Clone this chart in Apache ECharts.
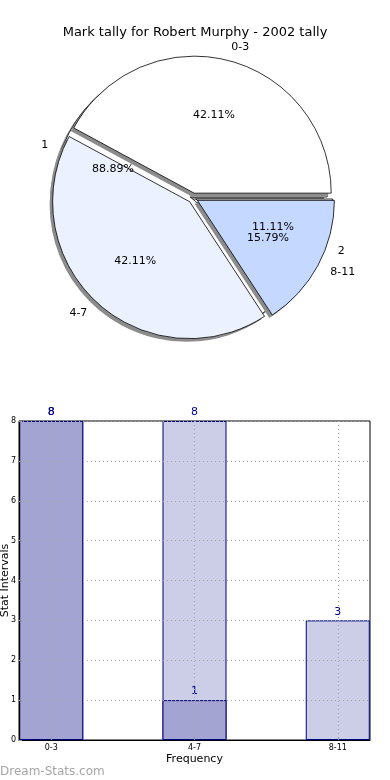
<!DOCTYPE html>
<html>
<head>
<meta charset="utf-8">
<script src="https://cdn.jsdelivr.net/npm/echarts@6/dist/echarts.min.js"></script>
<style>html,body{margin:0;padding:0;background:#fff;}#c{width:390px;height:780px;}</style>
</head>
<body>
<div id="c"></div>
<script>
// ---- data ----
const titleText = 'Mark tally for Robert Murphy - 2002 tally';
const pieCategories = ['0-3', '4-7', '8-11'];
const pieValues = [8, 8, 3];
const pieColors = ['#ffffff', '#ebf1fe', '#c5d8ff'];
const subCategories = ['1', '2'];
const subValues = [8, 1];
const barCategories = ['0-3', '4-7', '8-11'];
const lightValues = [8, 8, 3];
const darkValues = [8, 1, null];
const yTicks = [0, 1, 2, 3, 4, 5, 6, 7, 8];
const xAxisName = 'Frequency';
const yAxisName = 'Stat Intervals';
const watermark = 'Dream-Stats.com';

const FONT = 'DejaVu Sans';
const R = 137;
const CENTER = [193, 198];
const SHADOW_CENTER = [190, 201];

function pctFormatter(vals) {
  const total = vals.reduce((a, b) => a + b, 0);
  return p => (p.value / total * 100).toFixed(2) + '%';
}

function wedgeData(names, vals, colors, sel) {
  return names.map((n, i) => ({
    name: n, value: vals[i], selected: sel,
    itemStyle: { color: colors[i] }
  }));
}

function basePie(extra) {
  return Object.assign({
    type: 'pie', startAngle: 0, clockwise: false,
    avoidLabelOverlap: false, animation: false, silent: true,
    emphasis: { disabled: true }
  }, extra);
}

function shadowPie(names, vals, offset, z) {
  return basePie({
    center: SHADOW_CENTER, radius: R, selectedMode: 'multiple', selectedOffset: offset, z: z,
    data: wedgeData(names, vals, names.map(() => '#8c8c8c'), true),
    itemStyle: { borderWidth: 0 },
    label: { show: false }, labelLine: { show: false }
  });
}

function facePie(names, vals, colors, offset, z) {
  return basePie({
    center: CENTER, radius: R, selectedMode: 'multiple', selectedOffset: offset, z: z,
    data: wedgeData(names, vals, colors, true),
    itemStyle: { borderColor: '#000', borderWidth: 0.8 },
    label: { show: true, position: 'outside', formatter: '{b}', distanceToLabelLine: 0,
      fontFamily: FONT, fontSize: 11, color: '#000' },
    labelLine: { show: false, length: 14, length2: 0 }
  });
}

function pctPie(names, vals) {
  return basePie({
    center: CENTER, radius: R * 1.2, z: 6,
    data: names.map((n, i) => ({ name: n, value: vals[i] })),
    itemStyle: { color: 'rgba(0,0,0,0)', borderWidth: 0 },
    label: { show: true, position: 'inside', formatter: pctFormatter(vals),
      fontFamily: FONT, fontSize: 11, color: '#000' },
    labelLine: { show: false }
  });
}

const chart = echarts.init(document.getElementById('c'));
chart.setOption({
  animation: false,
  title: {
    text: titleText, left: 'center', top: 21,
    textStyle: { fontFamily: FONT, fontSize: 13, fontWeight: 'normal', color: '#000' }
  },
  graphic: [{
    type: 'text', left: 0, top: 766,
    style: { text: watermark, font: '12px "DejaVu Sans"', fill: '#a6a6a6' }
  }],
  grid: {
    left: 19, right: 20, top: 421, bottom: 40,
    outerBoundsMode: 'none', containLabel: false,
    show: true, borderColor: '#000', borderWidth: 1, backgroundColor: 'transparent'
  },
  xAxis: {
    type: 'value', min: -0.225, max: 2.225, z: 5,
    name: xAxisName, nameLocation: 'middle', nameGap: 14, nameMoveOverlap: false,
    nameTextStyle: { fontFamily: FONT, fontSize: 11, color: '#000' },
    axisLine: { show: true, onZero: false, lineStyle: { color: '#000' } },
    axisTick: { show: true, inside: true, length: 3, customValues: [0, 1, 2], lineStyle: { color: '#999' } },
    axisLabel: {
      customValues: [0, 1, 2], margin: 4,
      fontFamily: FONT, fontSize: 8, color: '#000',
      formatter: v => barCategories[Math.round(v)]
    },
    splitLine: { show: true, lineStyle: { color: '#a8a8a8', type: [1, 3] } }
  },
  yAxis: {
    type: 'value', min: yTicks[0], max: yTicks[yTicks.length - 1], interval: 1, z: 5,
    name: yAxisName, nameLocation: 'middle', nameGap: 8, nameMoveOverlap: false,
    nameTextStyle: { fontFamily: FONT, fontSize: 11, color: '#000' },
    axisLine: { show: true, onZero: false, lineStyle: { color: '#000' } },
    axisTick: { show: true, inside: true, length: 3, lineStyle: { color: '#999' } },
    axisLabel: { margin: 3, fontFamily: FONT, fontSize: 8, color: '#000' },
    splitLine: { show: true, lineStyle: { color: '#a8a8a8', type: [1, 3] } }
  },
  series: [
    shadowPie(subCategories, subValues, 3, 1),
    facePie(subCategories, subValues, subCategories.map(() => '#ffffff'), 3, 1),
    shadowPie(pieCategories, pieValues, 5, 2),
    facePie(pieCategories, pieValues, pieColors, 5, 3),
    pctPie(subCategories, subValues),
    pctPie(pieCategories, pieValues),
    {
      type: 'bar', barWidth: 64, barGap: '-100%', animation: false, z: 2,
      data: lightValues.map((v, i) => [i, v]),
      itemStyle: { color: '#cccde6', borderColor: '#000080', borderWidth: 1 },
      label: { show: true, position: 'top', distance: 3, fontFamily: FONT, fontSize: 11, color: '#00008b',
        formatter: p => p.value[1] },
      emphasis: { disabled: true }
    },
    {
      type: 'bar', barWidth: 64, barGap: '-100%', animation: false, z: 2,
      data: darkValues.map((v, i) => [i, v]),
      itemStyle: { color: '#a3a4d1', borderColor: '#000080', borderWidth: 1 },
      label: { show: true, position: 'top', distance: 3, fontFamily: FONT, fontSize: 11, color: '#00008b',
        formatter: p => p.value[1] },
      emphasis: { disabled: true }
    }
  ]
});
</script>
</body>
</html>
